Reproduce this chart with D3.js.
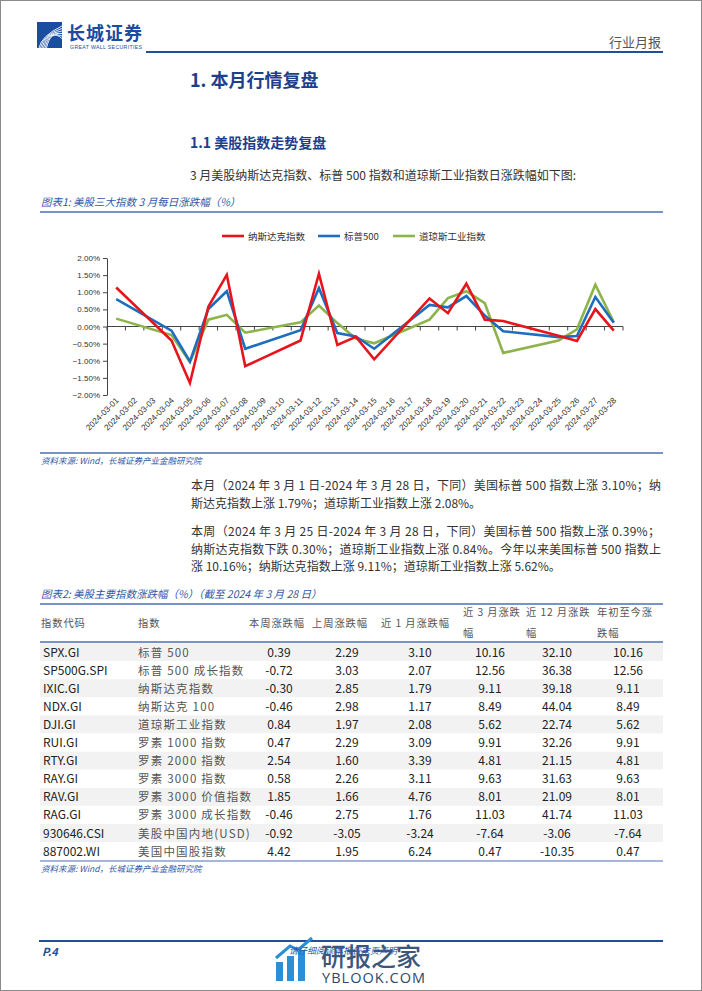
<!DOCTYPE html>
<html><head><meta charset="utf-8">
<script src="https://cdn.jsdelivr.net/npm/d3@7"></script>
<style>body{margin:0;background:#fff}svg{display:block}</style>
</head><body>
<svg id="page" width="702" height="991"></svg>
<script>
// ---------- chart data ----------
const dates = ["2024-03-01","2024-03-02","2024-03-03","2024-03-04","2024-03-05","2024-03-06","2024-03-07","2024-03-08","2024-03-09","2024-03-10","2024-03-11","2024-03-12","2024-03-13","2024-03-14","2024-03-15","2024-03-16","2024-03-17","2024-03-18","2024-03-19","2024-03-20","2024-03-21","2024-03-22","2024-03-23","2024-03-24","2024-03-25","2024-03-26","2024-03-27","2024-03-28"];
const nasdaq = [1.14,null,null,-0.41,-1.65,0.58,1.51,-1.16,null,null,-0.41,1.54,-0.54,-0.30,-0.96,null,null,0.82,0.39,1.25,0.20,0.16,null,null,-0.27,-0.42,0.51,-0.12];
const sp500  = [0.80,null,null,-0.12,-1.02,0.51,1.03,-0.65,null,null,-0.11,1.12,-0.19,-0.29,-0.65,null,null,0.63,0.56,0.89,0.32,-0.14,null,null,-0.31,-0.28,0.86,0.11];
const dow    = [0.23,null,null,-0.25,-1.04,0.20,0.34,-0.18,null,null,0.12,0.61,0.10,-0.35,-0.49,null,null,0.20,0.83,1.03,0.68,-0.77,null,null,-0.41,-0.08,1.22,0.12];
const seriesNames = ["纳斯达克指数","标普500","道琼斯工业指数"];
const yTicks = [0.02,0.015,0.01,0.005,0,-0.005,-0.01,-0.015,-0.02];

// ---------- table data ----------
const tCodes = ["SPX.GI","SP500G.SPI","IXIC.GI","NDX.GI","DJI.GI","RUI.GI","RTY.GI","RAY.GI","RAV.GI","RAG.GI","930646.CSI","887002.WI"];
const tNames = ["标普 500","标普 500 成长指数","纳斯达克指数","纳斯达克 100","道琼斯工业指数","罗素 1000 指数","罗素 2000 指数","罗素 3000 指数","罗素 3000 价值指数","罗素 3000 成长指数","美股中国内地(USD)","美国中国股指数"];
const tWeek  = ["0.39","-0.72","-0.30","-0.46","0.84","0.47","2.54","0.58","1.85","-0.46","-0.92","4.42"];
const tLastW = ["2.29","3.03","2.85","2.98","1.97","2.29","1.60","2.26","1.66","2.75","-3.05","1.95"];
const tM1    = ["3.10","2.07","1.79","1.17","2.08","3.09","3.39","3.11","4.76","1.76","-3.24","6.24"];
const tM3    = ["10.16","12.56","9.11","8.49","5.62","9.91","4.81","9.63","8.01","11.03","-7.64","0.47"];
const tM12   = ["32.10","36.38","39.18","44.04","22.74","32.26","21.15","31.63","21.09","41.74","-3.06","-10.35"];
const tYtd   = ["10.16","12.56","9.11","8.49","5.62","9.91","4.81","9.63","8.01","11.03","-7.64","0.47"];
const tHeaders = [["指数代码"],["指数"],["本周涨跌幅"],["上周涨跌幅"],["近 1 月涨跌幅"],["近 3 月涨跌","幅"],["近 12 月涨跌","幅"],["年初至今涨","跌幅"]];

// ---------- page ----------
const svg = d3.select("#page");
const CJK = "'Noto Sans CJK SC','Noto Sans',sans-serif";
const BLUE = "#1d3f8e", CAP = "#2f56a6", LINE = "#4b6fb3", BODY = "#333";

svg.append("rect").attr("x",0.5).attr("y",0.5).attr("width",701).attr("height",990)
  .attr("fill","#fff").attr("stroke","#8a8a8a");

// header logo
const logo = svg.append("g");
logo.append("rect").attr("x",37).attr("y",22).attr("width",25).attr("height",26).attr("fill","#1a4c9f");
[0,1,2,3,4,5].forEach(i=>{
  logo.append("path").attr("d",`M${39+i*1.5},${48} Q${41+i*2},${36-i*1.5} ${62},${26+i*2.5}`)
    .attr("fill","none").attr("stroke","#fff").attr("stroke-width",0.9);
});
svg.append("text").attr("x",67).attr("y",40).attr("font-family",CJK).attr("font-weight",700)
  .attr("font-size",18).attr("fill","#1a4c9f").attr("letter-spacing",1).text("长城证券");
svg.append("text").attr("x",70).attr("y",48.5).attr("font-family","'Liberation Sans',sans-serif")
  .attr("font-size",5.2).attr("fill","#1a4c9f").attr("textLength",72).text("GREAT WALL SECURITIES");
svg.append("text").attr("x",661).attr("y",47).attr("text-anchor","end").attr("font-family",CJK)
  .attr("font-size",13).attr("fill","#555").text("行业月报");
svg.append("line").attr("x1",146).attr("x2",663).attr("y1",52).attr("y2",52).attr("stroke","#1f4e9a").attr("stroke-width",2);

// headings
svg.append("text").attr("x",190).attr("y",87).attr("font-family",CJK).attr("font-weight",700)
  .attr("font-size",18).attr("fill",BLUE).text("1. 本月行情复盘");
svg.append("text").attr("x",190).attr("y",147.5).attr("font-family",CJK).attr("font-weight",700)
  .attr("font-size",14).attr("fill",BLUE).text("1.1 美股指数走势复盘");
svg.append("text").attr("x",190).attr("y",179.5).attr("font-family",CJK)
  .attr("font-size",12).attr("fill",BODY).text("3 月美股纳斯达克指数、标普 500 指数和道琼斯工业指数日涨跌幅如下图:");

function caption(y, t){
  svg.append("text").attr("x",41).attr("y",y).attr("font-family",CJK).attr("font-style","italic")
    .attr("font-size",10.5).attr("fill",CAP).text(t);
}
function source(y){
  svg.append("text").attr("x",41).attr("y",y).attr("font-family",CJK).attr("font-style","italic")
    .attr("font-size",8.5).attr("fill",CAP).text("资料来源: Wind，长城证券产业金融研究院");
}
function hline(y, w){
  svg.append("line").attr("x1",40).attr("x2",663).attr("y1",y).attr("y2",y).attr("stroke",LINE).attr("stroke-width",w||1.5);
}
caption(206, "图表1:  美股三大指数 3 月每日涨跌幅（%）");
hline(212);

// ---------- chart ----------
const x = d3.scaleBand().domain(dates).range([107, 623]);
const y = d3.scaleLinear().domain([-0.02, 0.02]).range([395, 258]);
const ch = svg.append("g");
ch.append("g").attr("transform","translate(107,0)")
  .call(d3.axisLeft(y).tickValues(yTicks).tickFormat(d3.format(".2%")).tickSize(4).tickSizeOuter(0))
  .call(g=>{g.select(".domain").attr("stroke","#444");
    g.selectAll(".tick line").attr("stroke","#444");
    g.selectAll("text").attr("font-family","'Liberation Sans',sans-serif").attr("font-size",8).attr("fill","#333");});
const y0 = y(0);
ch.append("line").attr("x1",107).attr("x2",623).attr("y1",y0).attr("y2",y0).attr("stroke","#444");
ch.selectAll(".xt").data(dates.concat(["end"])).join("line")
  .attr("x1",(d,i)=> i<dates.length ? x(d) : x.range()[1])
  .attr("x2",(d,i)=> i<dates.length ? x(d) : x.range()[1])
  .attr("y1",y0).attr("y2",y0+4).attr("stroke","#444");
ch.selectAll(".xl").data(dates).join("text")
  .attr("transform",d=>`translate(${x(d)+x.bandwidth()/2+3},${401}) rotate(-45)`)
  .attr("text-anchor","end").attr("font-family","'Liberation Sans',sans-serif").attr("font-size",8.3)
  .attr("fill","#333").text(d=>d);

const colors = ["#e8141c","#1e6ebf","#8db44a"];
const order = [2,1,0];
const all = [nasdaq, sp500, dow];
const lineGen = d3.line().x(d=>x(d.date)+x.bandwidth()/2).y(d=>y(d.v/100));
order.forEach(k=>{
  const pts = dates.map((d,i)=>({date:d, v:all[k][i]})).filter(p=>p.v!==null);
  ch.append("path").datum(pts).attr("d",lineGen).attr("fill","none")
    .attr("stroke",colors[k]).attr("stroke-width",2.6).attr("stroke-linejoin","miter");
});
const legX = [222, 318, 393];
seriesNames.forEach((n,i)=>{
  ch.append("line").attr("x1",legX[i]).attr("x2",legX[i]+22).attr("y1",236).attr("y2",236)
    .attr("stroke",colors[i]).attr("stroke-width",2.6);
  ch.append("text").attr("x",legX[i]+26).attr("y",239.5).attr("font-family",CJK).attr("font-size",9.5)
    .attr("fill","#333").text(n);
});

hline(453);
source(464);

// ---------- paragraphs ----------
const para = [
  {t:"本月（2024 年 3 月 1 日-2024 年 3 月 28 日，下同）美国标普 500 指数上涨 3.10%；纳", y:490, w:470},
  {t:"斯达克指数上涨 1.79%；道琼斯工业指数上涨 2.08%。", y:507.5},
  {t:"本周（2024 年 3 月 25 日-2024 年 3 月 28 日，下同）美国标普 500 指数上涨 0.39%；", y:536, w:469},
  {t:"纳斯达克指数下跌 0.30%；道琼斯工业指数上涨 0.84%。今年以来美国标普 500 指数上", y:553.5, w:470},
  {t:"涨 10.16%；纳斯达克指数上涨 9.11%；道琼斯工业指数上涨 5.62%。", y:571}
];
para.forEach(p=>{
  const t = svg.append("text").attr("x",191).attr("y",p.y).attr("font-family",CJK)
    .attr("font-size",12).attr("fill",BODY).text(p.t);
  if(p.w) t.attr("textLength",p.w).attr("lengthAdjust","spacing");
});

// ---------- table ----------
caption(598, "图表2:  美股主要指数涨跌幅（%）（截至 2024 年 3 月 28 日）");
hline(604);
const rowY = tCodes.map((d,i)=>652 + i*18.1);
const tb = svg.append("g");
tb.selectAll(".bg").data(tCodes).join("rect")
  .attr("x",40).attr("width",623).attr("y",(d,i)=>rowY[i]-9).attr("height",18.1)
  .attr("fill",(d,i)=> i%2===0 ? "#f2f2f2" : "#fff");
hline(642, 1.5);
const hx = [41, 138, 249, 312, 381, 463, 526, 597];
tHeaders.forEach((h,i)=>{
  h.forEach((line,j)=>{
    const yy = h.length===1 ? 627 : (j===0 ? 616 : 637);
    tb.append("text").attr("x",hx[i]).attr("y",yy).attr("font-family",CJK).attr("font-size",10.3)
      .attr("fill","#555").attr("letter-spacing",0.9).text(line);
  });
});
tb.selectAll(".code").data(tCodes).join("text").attr("x",43).attr("y",(d,i)=>rowY[i]+4.5)
  .attr("font-family",CJK).attr("font-size",12).attr("fill","#222").text(d=>d);
tb.selectAll(".name").data(tNames).join("text").attr("x",138).attr("y",(d,i)=>rowY[i]+4.5)
  .attr("font-family",CJK).attr("font-size",11.5).attr("fill","#555").attr("letter-spacing",1.2).text(d=>d);
const cols = [tWeek, tLastW, tM1, tM3, tM12, tYtd];
const cx = [279, 347, 420, 490, 557, 628];
cols.forEach((c,k)=>{
  tb.selectAll(".c"+k).data(c).join("text").attr("x",cx[k]).attr("y",(d,i)=>rowY[i]+4.5)
    .attr("text-anchor","middle").attr("font-family",CJK).attr("font-size",12).attr("fill","#222").text(d=>d);
});
hline(861, 1.2);
source(872);

// ---------- footer ----------
svg.append("line").attr("x1",39).attr("x2",663).attr("y1",941).attr("y2",941).attr("stroke","#1f4e9a").attr("stroke-width",2);
svg.append("text").attr("x",42).attr("y",956).attr("font-family",CJK).attr("font-weight",700)
  .attr("font-style","italic").attr("font-size",11).attr("fill","#1f4e9a").text("P.4");
const wm = svg.append("g");
[[276,962,7,19],[287,956,7,25],[298,950,7,31]].forEach(b=>{
  wm.append("rect").attr("x",b[0]).attr("y",b[1]).attr("width",b[2]).attr("height",b[3]).attr("fill","#2a8fd6");
});
wm.append("path").attr("d","M276,958 L290,946 L298,950 L312,938").attr("fill","none").attr("stroke","#2a8fd6").attr("stroke-width",3);
svg.append("text").attr("x",289).attr("y",954).attr("font-family",CJK).attr("font-style","italic")
  .attr("font-size",9).attr("fill","#2f56a6").text("请仔细阅读本报告末页声明");
wm.append("text").attr("x",321).attr("y",966).attr("font-family",CJK).attr("font-weight",500)
  .attr("font-size",25).attr("fill","#2b4a6e").attr("opacity",0.92).text("研报之家");
wm.append("text").attr("x",322).attr("y",983).attr("font-family","'Open Sans',sans-serif")
  .attr("font-size",14.5).attr("fill","#2b4a6e").attr("textLength",103).text("YBLOOK.COM");
</script>
</body></html>
